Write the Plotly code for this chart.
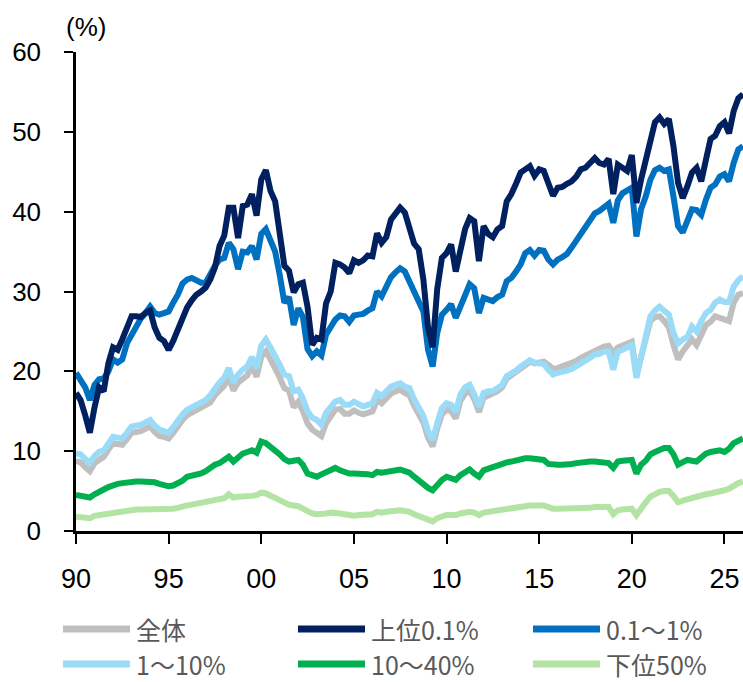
import pandas as pd
import plotly.graph_objects as go

# Quarterly observations, 1990Q1 .. 2026Q1
dates = pd.date_range("1990-01-01", "2026-01-01", freq="QS")

total = [
    8.8, 8.6, 8.0, 7.5,  8.5, 9.0, 9.3, 10.2,  11.0, 10.9, 10.8, 11.5,  12.3, 12.4, 12.5, 12.8,
    13.1, 12.4, 11.9, 11.8,  11.6, 12.3, 13.2, 13.9,  14.5, 14.8, 15.1, 15.4,  15.6, 16.1, 17.0, 17.6,
    18.2, 19.3, 17.6, 18.6,  19.1, 19.5, 20.7, 19.3,  21.8, 22.5, 21.5, 20.5,  19.2, 17.9, 17.6, 15.5,
    16.2, 15.0, 13.5, 12.7,  12.4, 11.9, 13.5, 14.5,  15.2, 15.3, 14.7, 14.7,  15.1, 14.8, 14.6, 14.8,
    15.0, 16.4, 16.0, 16.6,  17.2, 17.5, 17.7, 17.3,  17.0, 15.7, 14.8, 13.6,  11.7, 10.6, 12.8, 14.6,
    15.2, 15.0, 14.1, 16.3,  17.2, 17.6, 16.5, 14.9,  16.7, 17.0, 17.1, 17.5,  18.0, 19.1, 19.5, 19.9,
    20.3, 20.8, 21.2, 21.0,  21.1, 21.2, 20.8, 20.3,  20.4, 20.6, 20.9, 21.1,  21.3, 21.7, 22.0, 22.4,
    22.7, 22.9, 23.1, 23.2,  22.3, 23.0, 23.2, 23.5,  23.7, 19.5, 21.8, 24.3,  26.3, 26.8, 26.9, 26.3,
    25.5, 23.3, 21.5, 22.5,  23.3, 24.0, 23.3, 24.8,  25.8, 26.2, 26.9, 26.7,  26.4, 26.3, 28.6, 29.6,
    29.8,
]
top_01 = [
    17.3, 16.4, 14.5, 12.3,  15.5, 18.0, 17.5, 21.0,  23.0, 22.7, 24.0, 25.5,  26.9, 26.9, 26.8, 27.3,
    27.6, 25.5, 24.2, 23.8,  22.7, 23.8, 25.2, 26.7,  28.0, 28.9, 29.6, 30.0,  30.5, 31.5, 33.0, 35.7,
    37.0, 40.5, 40.5, 36.7,  40.7, 40.9, 42.2, 39.5,  44.0, 45.2, 42.6, 41.3,  37.5, 33.2, 32.6, 29.9,
    30.9, 31.1, 28.1, 23.3,  24.2, 24.0, 28.5, 30.0,  33.6, 33.4, 33.0, 32.3,  33.9, 33.6, 33.9, 34.5,
    34.4, 37.3, 36.1, 36.8,  39.0, 39.8, 40.5, 39.9,  37.8, 36.0, 35.3, 31.5,  25.5, 23.0, 30.3, 34.2,
    34.8, 35.9, 32.5, 35.3,  37.8, 39.2, 38.8, 33.8,  38.2, 37.2, 36.8, 37.8,  38.2, 41.3, 42.2, 43.5,
    44.9, 45.3, 45.7, 44.5,  45.3, 45.1, 43.5, 42.0,  43.0, 43.1, 43.5, 43.8,  44.4, 45.3, 45.5, 46.1,
    46.7, 46.1, 45.9, 46.6,  42.2, 45.9, 45.6, 45.1,  47.1, 41.1, 44.0, 46.5,  49.5, 51.2, 51.8, 51.0,
    51.6, 48.2, 43.6, 41.7,  43.2, 44.9, 45.5, 43.8,  46.5, 49.1, 49.5, 50.7,  51.2, 49.8, 52.6, 54.2,
    54.7,
]
top_01_1 = [
    19.8, 19.0, 18.0, 16.4,  18.3, 19.0, 19.1, 20.0,  21.5, 21.1, 21.5, 23.5,  24.6, 25.5, 26.6, 27.3,
    28.1, 27.3, 27.1, 27.3,  27.5, 28.6, 29.6, 31.0,  31.5, 31.7, 31.5, 31.1,  31.1, 32.3, 33.2, 34.0,
    34.2, 36.1, 35.3, 32.8,  35.0, 34.9, 35.7, 34.0,  37.2, 37.8, 36.3, 35.0,  32.0, 28.6, 29.3, 25.8,
    27.9, 26.8, 22.8, 21.9,  22.5, 22.0, 24.6, 25.5,  26.5, 27.0, 26.9, 26.2,  27.0, 27.1, 27.2, 27.6,
    27.9, 30.0, 29.4, 30.6,  31.8, 32.4, 32.9, 32.5,  31.3, 29.9, 29.0, 27.5,  22.7, 20.6, 24.8, 27.1,
    27.7, 28.4, 26.7, 28.1,  29.8, 30.9, 30.4, 27.3,  29.2, 29.0, 28.8, 29.3,  29.6, 31.3, 31.7, 32.5,
    33.4, 34.8, 35.2, 34.5,  35.2, 35.1, 34.0, 33.4,  34.0, 34.3, 34.7, 35.5,  36.4, 37.2, 38.2, 39.0,
    39.8, 40.1, 40.5, 41.0,  38.6, 41.4, 42.3, 42.7,  43.0, 36.9, 40.3, 41.9,  44.0, 45.2, 45.5, 45.1,
    45.3, 41.9, 38.2, 37.4,  39.1, 40.3, 40.2, 39.6,  41.5, 43.0, 43.4, 44.4,  44.7, 43.8, 46.1, 47.8,
    48.2,
]
top_1_10 = [
    9.7, 9.6, 9.0, 8.5,  9.4, 9.9, 10.1, 11.0,  11.8, 11.7, 11.6, 12.3,  13.1, 13.2, 13.3, 13.6,
    13.9, 13.2, 12.7, 12.5,  12.3, 13.0, 13.9, 14.6,  15.2, 15.5, 15.8, 16.1,  16.4, 17.0, 17.9, 18.6,
    19.2, 20.4, 18.6, 19.6,  20.2, 20.6, 21.8, 20.4,  23.2, 24.0, 23.0, 22.0,  20.8, 19.6, 19.4, 17.5,
    17.7, 16.6, 15.0, 14.2,  13.9, 13.3, 14.8, 15.5,  16.2, 16.4, 15.8, 15.8,  16.2, 15.9, 15.6, 15.8,
    16.0, 17.3, 16.9, 17.5,  18.1, 18.3, 18.5, 18.1,  17.9, 16.5, 15.6, 14.4,  12.5, 11.4, 13.5, 15.4,
    16.0, 15.8, 14.9, 17.1,  18.0, 18.3, 17.1, 15.6,  17.3, 17.5, 17.5, 17.9,  18.3, 19.4, 19.7, 20.1,
    20.6, 21.0, 21.4, 21.1,  20.9, 20.9, 20.2, 19.6,  19.8, 19.9, 20.1, 20.3,  20.6, 21.0, 21.4, 21.7,
    22.1, 22.2, 22.5, 22.5,  20.2, 22.5, 22.7, 23.0,  23.3, 19.2, 21.9, 24.8,  26.9, 27.6, 28.1, 27.6,
    27.1, 24.8, 23.5, 24.0,  24.3, 25.6, 25.0, 26.3,  27.3, 27.7, 28.6, 29.0,  28.7, 28.7, 30.6, 31.4,
    31.9,
]
mid_10_40 = [
    4.5, 4.4, 4.3, 4.2,  4.6, 4.8, 5.2, 5.5,  5.8, 5.9, 6.0, 6.1,  6.2, 6.2, 6.2, 6.2,
    6.2, 6.1, 5.9, 5.7,  5.6, 5.7, 5.9, 6.3,  6.8, 6.9, 7.1, 7.2,  7.5, 8.0, 8.3, 8.5,
    8.9, 9.3, 8.7, 9.3,  9.7, 9.9, 10.1, 9.8,  11.2, 11.0, 10.6, 10.1,  9.6, 9.0, 8.7, 8.8,
    8.9, 8.3, 7.2, 7.0,  6.8, 7.1, 7.4, 7.6,  7.9, 7.6, 7.3, 7.2,  7.2, 7.2, 7.2, 7.1,
    7.0, 7.4, 7.3, 7.4,  7.5, 7.6, 7.7, 7.5,  7.3, 6.8, 6.3, 5.8,  5.4, 5.1, 5.8, 6.4,
    6.8, 6.6, 6.4, 7.0,  7.4, 7.7, 7.2, 6.8,  7.6, 7.9, 8.0, 8.2,  8.5, 8.6, 8.7, 8.9,
    9.0, 9.1, 9.1, 9.0,  8.9, 8.9, 8.4, 8.3,  8.3, 8.3, 8.3, 8.4,  8.5, 8.6, 8.6, 8.7,
    8.7, 8.6, 8.5, 8.5,  7.9, 8.7, 8.8, 8.9,  8.9, 7.2, 8.3, 8.8,  9.6, 9.9, 10.2, 10.4,
    10.4, 9.6, 8.3, 8.6,  8.9, 8.8, 8.7, 9.2,  9.7, 9.9, 10.0, 10.1,  9.9, 10.3, 11.0, 11.3,
    11.6,
]
bottom_50 = [
    1.8, 1.7, 1.6, 1.6,  1.9, 2.0, 2.1, 2.2,  2.3, 2.4, 2.5, 2.6,  2.6, 2.7, 2.7, 2.7,
    2.7, 2.7, 2.7, 2.7,  2.7, 2.8, 2.9, 3.1,  3.2, 3.3, 3.4, 3.5,  3.6, 3.7, 3.8, 3.9,
    4.1, 4.6, 4.2, 4.3,  4.3, 4.4, 4.4, 4.5,  4.8, 4.7, 4.4, 4.1,  3.9, 3.5, 3.3, 3.2,
    3.1, 2.8, 2.4, 2.2,  2.1, 2.1, 2.2, 2.3,  2.3, 2.2, 2.1, 2.0,  1.9, 2.0, 2.0, 2.1,
    2.1, 2.4, 2.3, 2.4,  2.5, 2.5, 2.6, 2.5,  2.4, 2.1, 1.9, 1.6,  1.4, 1.2, 1.6, 1.9,
    2.0, 2.0, 2.0, 2.2,  2.3, 2.4, 2.3, 2.0,  2.3, 2.4, 2.5, 2.6,  2.7, 2.8, 2.8, 2.9,
    3.0, 3.1, 3.2, 3.2,  3.2, 3.2, 3.0, 2.8,  2.8, 2.8, 2.8, 2.8,  2.8, 2.8, 2.9, 2.9,
    3.0, 3.0, 3.0, 3.0,  2.1, 2.6, 2.7, 2.8,  2.8, 2.0, 2.9, 3.6,  4.3, 4.7, 4.9, 5.0,
    5.0, 4.4, 3.6, 3.8,  4.0, 4.1, 4.2, 4.4,  4.6, 4.7, 4.8, 4.9,  5.1, 5.3, 5.7, 6.0,
    6.2,
]

names = ["全体", "上位0.1%", "0.1～1%", "1～10%", "10～40%", "下位50%"]
values = [total, top_01, top_01_1, top_1_10, mid_10_40, bottom_50]
colors = ["#BFBFBF", "#002060", "#0070C0", "#9ADCF8", "#00B050", "#B4E4A4"]

tick_years = [1990, 1995, 2000, 2005, 2010, 2015, 2020, 2025]
tick_text = ["90", "95", "00", "05", "10", "15", "20", "25"]

# drawing order (bottom to top)
draw_order = [0, 3, 2, 1, 4, 5]

fig = go.Figure()
for i in draw_order:
    fig.add_trace(go.Scatter(
        x=dates, y=values[i], mode="lines", name=names[i],
        line=dict(color=colors[i], width=6), showlegend=False,
    ))

fig.update_layout(
    width=743, height=682,
    margin=dict(l=76, r=0, t=52, b=151),
    paper_bgcolor="white", plot_bgcolor="white",
    font=dict(family="Liberation Sans, Arial, sans-serif", size=24, color="#000000"),
    xaxis=dict(
        range=[pd.Timestamp("1990-01-01"), pd.Timestamp("2026-01-01")],
        tickvals=[pd.Timestamp(f"{y}-01-01") for y in tick_years],
        ticktext=tick_text,
        showgrid=False, zeroline=False,
        showline=True, linecolor="#000000", linewidth=2.5,
        ticks="outside", ticklen=10, tickwidth=2, tickcolor="#000000",
        tickfont=dict(family="Liberation Sans Narrow, Arial Narrow, Liberation Sans", size=27),
        ticklabelstandoff=12,
    ),
    yaxis=dict(
        range=[0, 60], tickvals=[0, 10, 20, 30, 40, 50, 60],
        showgrid=False, zeroline=False,
        showline=True, linecolor="#000000", linewidth=2.5,
        ticks="outside", ticklen=9, tickwidth=2, tickcolor="#000000",
        tickfont=dict(size=26),
        ticklabelstandoff=18,
    ),
)

fig.add_annotation(
    text="(%)", xref="paper", yref="paper", x=0.015, y=1.0, yshift=8,
    xanchor="center", yanchor="bottom", showarrow=False,
    font=dict(size=26, color="#000000"),
)

# Legend: two rows of three entries beneath the axis
legend_font = dict(family="Noto Sans CJK JP, sans-serif", size=25, color="#595959")
col_x = [63, 298, 533]
row_y = [629, 664]
W = 743
for k, (name, color) in enumerate(zip(names, colors)):
    cx = col_x[k % 3]
    cy = row_y[k // 3]
    fig.add_shape(
        type="line", xref="paper", yref="paper",
        x0=(cx - 76) / (W - 76), x1=(cx + 67 - 76) / (W - 76),
        y0=(531 - cy) / (531 - 52), y1=(531 - cy) / (531 - 52),
        line=dict(color=color, width=7),
    )
    fig.add_annotation(
        text=name, xref="paper", yref="paper",
        x=(cx + 71 - 76) / (W - 76), y=(531 - cy) / (531 - 52),
        xanchor="left", yanchor="middle", showarrow=False, font=legend_font,
    )

fig.write_html("out.html")
